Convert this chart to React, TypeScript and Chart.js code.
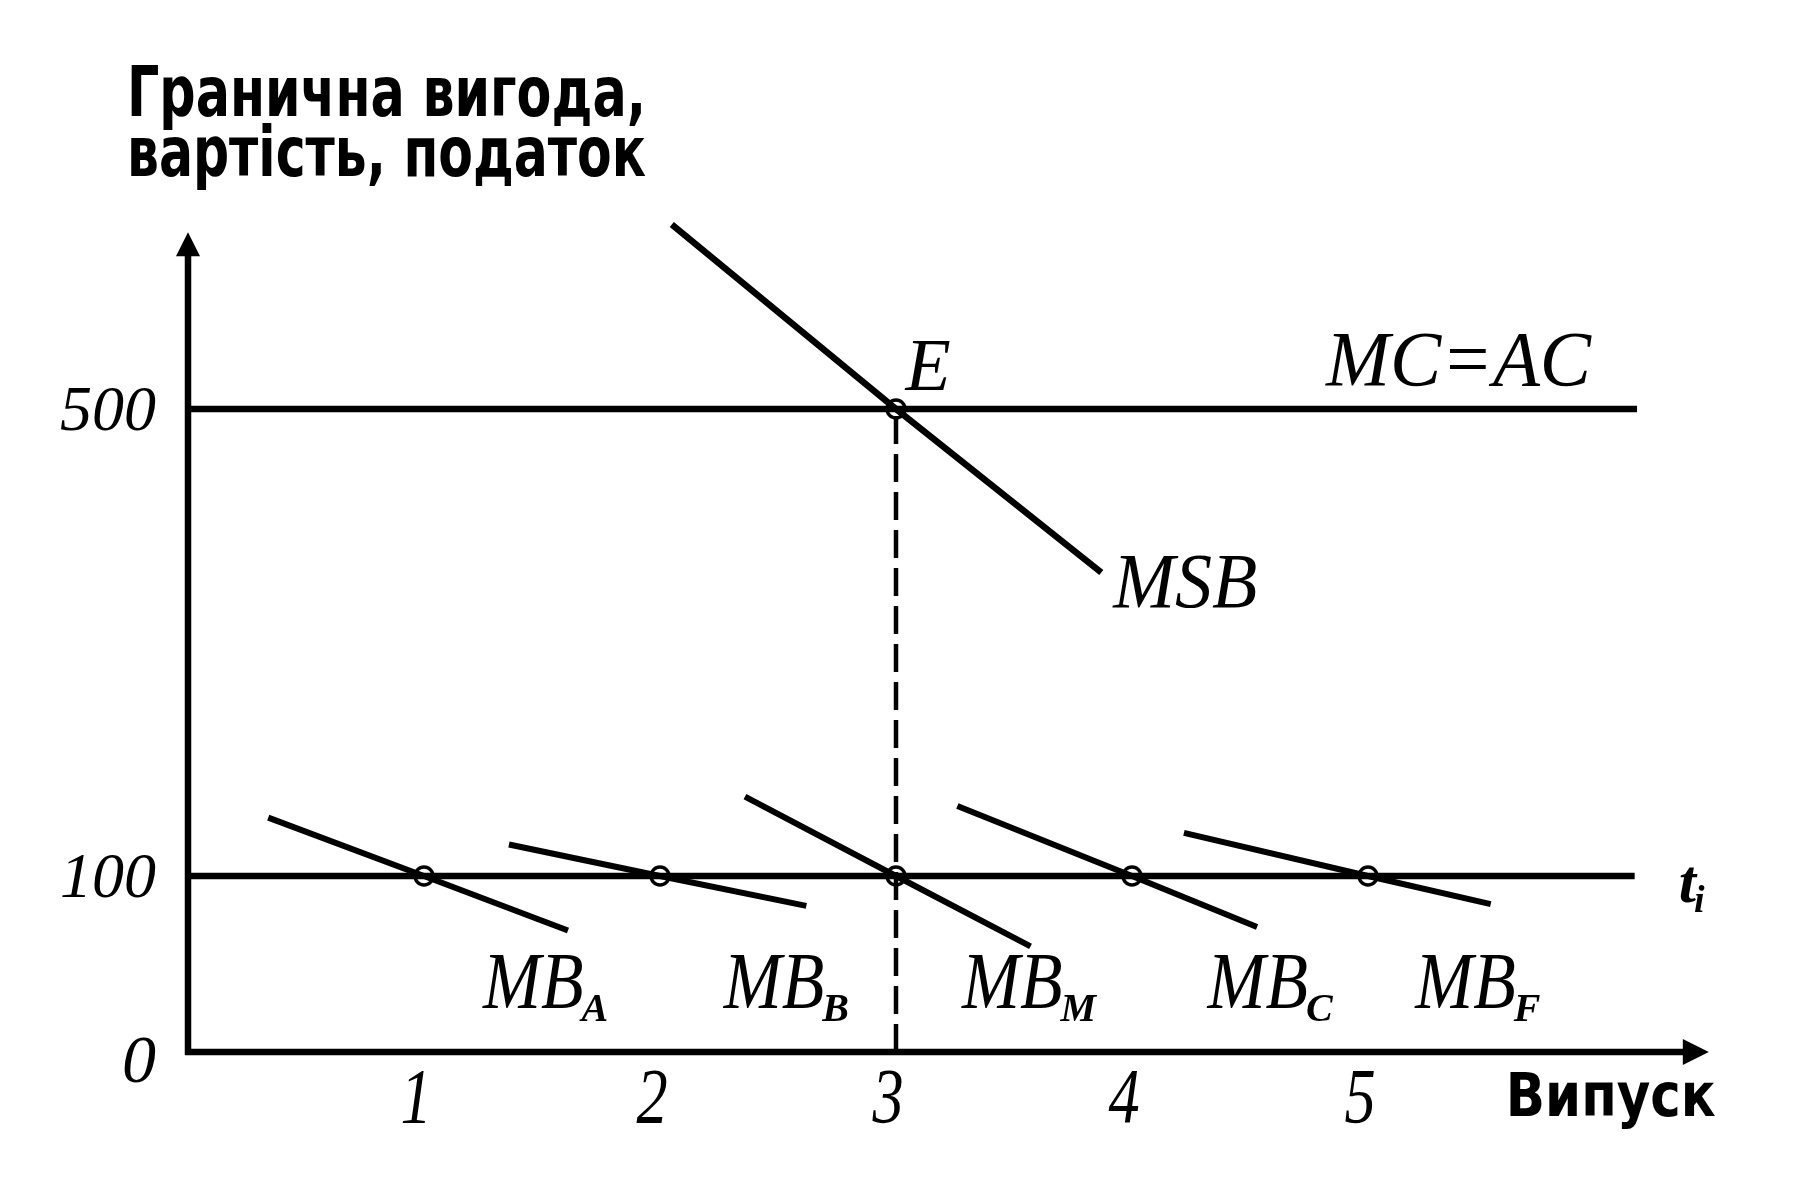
import React, { useEffect, useRef } from 'react';
import { Chart, registerables, LinearScale } from 'chart.js';

Chart.register(...registerables);

// ---------- data ----------
const X_TICKS = [1, 2, 3, 4, 5];
const Y_TICKS = [0, 100, 500];
const X_MAX = 6.5;
const Y_MAX = 700;
const X_AXIS_END = 6.44;
const Y_AXIS_END = 648;

const MC_AC_X = [0, 6.14];
const MC_AC_Y = [500, 500];
const TAX_X = [0, 6.13];
const TAX_Y = [100, 100];
const MSB_X = [2.05, 3, 3.87];
const MSB_Y = [658, 500, 360];

const MB_NAMES = ['A', 'B', 'M', 'C', 'F'];
const MB_X = [
  [0.34, 1, 1.61],
  [1.36, 2, 2.62],
  [2.36, 3, 3.57],
  [3.26, 4, 4.53],
  [4.22, 5, 5.52],
];
const MB_Y = [
  [150, 100, 69],
  [127, 100, 83],
  [168, 100, 60],
  [160, 100, 71],
  [137, 100, 84],
];

const EQ_X = 3;
const EQ_Y = 500;
const TAX_POINTS_X = [1, 2, 3, 4, 5];
const TAX_POINTS_Y = [100, 100, 100, 100, 100];

// broken (piecewise) value axis: value stops and their relative drawn lengths
const Y_STOPS = [0, 100, 700];
const Y_SPANS = [176, 700.5];

const INK = '#000000';
const SERIF = '"Liberation Serif", "DejaVu Serif", serif';
const SANS = '"DejaVu Sans Condensed", "DejaVu Sans", sans-serif';

class PiecewiseScale extends LinearScale {
  static id = 'piecewise';
  static defaults = {};
  frac(v: number): number {
    const total = Y_SPANS.reduce((a, b) => a + b, 0);
    let acc = 0;
    for (let i = 0; i < Y_SPANS.length; i++) {
      const a = Y_STOPS[i];
      const b = Y_STOPS[i + 1];
      if (v <= b || i === Y_SPANS.length - 1) {
        return (acc + ((v - a) / (b - a)) * Y_SPANS[i]) / total;
      }
      acc += Y_SPANS[i];
    }
    return 0;
  }
  getPixelForValue(v: number) {
    return this.bottom - this.frac(v) * (this.bottom - this.top);
  }
  getValueForPixel(p: number) {
    const total = Y_SPANS.reduce((a, b) => a + b, 0);
    let f = ((this.bottom - p) / (this.bottom - this.top)) * total;
    for (let i = 0; i < Y_SPANS.length; i++) {
      if (f <= Y_SPANS[i] || i === Y_SPANS.length - 1) {
        return Y_STOPS[i] + (f / Y_SPANS[i]) * (Y_STOPS[i + 1] - Y_STOPS[i]);
      }
      f -= Y_SPANS[i];
    }
    return 0;
  }
}
Chart.register(PiecewiseScale as any);

function zip(xs: number[], ys: number[]) {
  return xs.map((x, i) => ({ x, y: ys[i] }));
}

function drawText(
  ctx: CanvasRenderingContext2D,
  s: string,
  x: number,
  y: number,
  font: string,
  align: CanvasTextAlign = 'left',
  width?: number,
  sx0 = 1
) {
  ctx.save();
  ctx.font = font;
  const w = ctx.measureText(s).width;
  const sx = width ? width / w : sx0;
  ctx.translate(x, y);
  ctx.scale(sx, 1);
  ctx.textAlign = align;
  ctx.textBaseline = 'alphabetic';
  ctx.fillStyle = INK;
  ctx.fillText(s, 0, 0);
  ctx.restore();
  return w * sx;
}

const decor = {
  id: 'decor',
  beforeDatasetsDraw(chart: any) {
    const ctx: CanvasRenderingContext2D = chart.ctx;
    const X = (v: number) => chart.scales.x.getPixelForValue(v);
    const Y = (v: number) => chart.scales.y.getPixelForValue(v);
    ctx.save();
    ctx.strokeStyle = INK;
    ctx.fillStyle = INK;
    ctx.lineWidth = 6.5;
    // y axis
    const x0 = X(0);
    const y0 = Y(0);
    const yTop = Y(Y_AXIS_END);
    ctx.beginPath();
    ctx.moveTo(x0, y0 + 3);
    ctx.lineTo(x0, yTop + 16);
    ctx.stroke();
    ctx.beginPath();
    ctx.moveTo(x0, yTop - 4);
    ctx.lineTo(x0 - 12, yTop + 20);
    ctx.lineTo(x0 + 12, yTop + 20);
    ctx.closePath();
    ctx.fill();
    // x axis
    const xEnd = X(X_AXIS_END);
    ctx.beginPath();
    ctx.moveTo(x0 - 3, y0);
    ctx.lineTo(xEnd - 16, y0);
    ctx.stroke();
    ctx.beginPath();
    ctx.moveTo(xEnd + 1, y0);
    ctx.lineTo(xEnd - 25, y0 - 13);
    ctx.lineTo(xEnd - 25, y0 + 13);
    ctx.closePath();
    ctx.fill();
    ctx.restore();
  },
  afterDatasetsDraw(chart: any) {
    const ctx: CanvasRenderingContext2D = chart.ctx;
    const X = (v: number) => chart.scales.x.getPixelForValue(v);
    const Y = (v: number) => chart.scales.y.getPixelForValue(v);
    const x0 = X(0);
    const y0 = Y(0);

    // axis titles
    drawText(ctx, 'Гранична вигода,', x0 - 61, 116, `bold 70px ${SANS}`, 'left', 519);
    drawText(ctx, 'вартість, податок', x0 - 61, 176, `bold 70px ${SANS}`, 'left', 519);
    drawText(ctx, 'Випуск', X(X_AXIS_END) + 8, y0 + 64, `bold 60px ${SANS}`, 'right', 210);

    // y ticks
    Y_TICKS.forEach((v) => {
      if (v === 0) {
        drawText(ctx, '0', x0 - 32, y0 + 30, `italic 68px ${SERIF}`, 'right');
      } else {
        drawText(ctx, String(v), x0 - 32, Y(v) + 21, `italic 64px ${SERIF}`, 'right');
      }
    });
    // x ticks
    X_TICKS.forEach((v) => {
      drawText(ctx, String(v), X(v) - 8, y0 + 70, `italic 78px ${SERIF}`, 'center', undefined, 0.8);
    });

    // curve labels
    drawText(ctx, 'E', X(EQ_X) + 32, Y(EQ_Y) - 19, `italic 74px ${SERIF}`, 'center');
    drawText(ctx, 'MC=AC', X(MC_AC_X[1]) - 46, Y(500) - 24, `italic 78px ${SERIF}`, 'right', 265);
    drawText(ctx, 'MSB', X(MSB_X[2]) + 12, Y(MSB_Y[2]) + 35, `italic 78px ${SERIF}`, 'left', 144);

    // MB labels
    const mbLeft = [1.25, 2.27, 3.28, 4.32, 5.2];
    MB_NAMES.forEach((n, i) => {
      const lx = X(mbLeft[i]);
      const by = Y(25);
      const w = drawText(ctx, 'MB', lx, by, `italic 80px ${SERIF}`, 'left', undefined, 0.87);
      drawText(ctx, n, lx + w - 2, by + 13, `bold italic 40px ${SERIF}`, 'left');
    });

    // t_i
    const tx = X(TAX_X[1]) + 44;
    const ty = Y(100) + 26;
    const tw = drawText(ctx, 't', tx, ty, `bold italic 62px ${SERIF}`, 'left');
    drawText(ctx, 'i', tx + tw - 2, ty + 10, `bold italic 38px ${SERIF}`, 'left');
  },
};

export default function App() {
  const ref = useRef<HTMLCanvasElement | null>(null);
  useEffect(() => {
    if (!ref.current) return;
    const lineDs = (label: string, xs: number[], ys: number[], extra: any = {}) => ({
      label,
      data: zip(xs, ys),
      borderColor: INK,
      borderWidth: 6.5,
      pointRadius: 0,
      fill: false,
      tension: 0,
      clip: false as any,
      ...extra,
    });
    const datasets: any[] = [
      lineDs('MC=AC', MC_AC_X, MC_AC_Y),
      lineDs('t_i', TAX_X, TAX_Y),
      lineDs('MSB', MSB_X, MSB_Y),
      ...MB_NAMES.map((n, i) => lineDs('MB_' + n, MB_X[i], MB_Y[i], { borderWidth: 6 })),
      lineDs('dashed', [EQ_X, EQ_X], [0, EQ_Y], { borderWidth: 4.5, borderDash: [28, 10] }),
      {
        type: 'scatter',
        label: 'points',
        data: zip([...TAX_POINTS_X, EQ_X], [...TAX_POINTS_Y, EQ_Y]),
        pointRadius: 9,
        pointBorderWidth: 3.5,
        pointBorderColor: INK,
        pointBackgroundColor: '#ffffff',
        showLine: false,
        clip: false,
      },
    ];
    const chart = new Chart(ref.current, {
      type: 'line',
      data: { datasets },
      options: {
        animation: false,
        responsive: false,
        devicePixelRatio: 1,
        layout: { padding: { left: 188, right: 86, top: 175.5, bottom: 132 } },
        plugins: { legend: { display: false }, title: { display: false }, tooltip: { enabled: false } },
        scales: {
          x: { type: 'linear', min: 0, max: X_MAX, display: false },
          y: { type: 'piecewise' as any, min: 0, max: Y_MAX, display: false },
        },
      },
      plugins: [decor],
    });
    return () => chart.destroy();
  }, []);
  return (
    <div style={{ position: 'fixed', left: 0, top: 0, width: 1808, height: 1184, background: '#fff' }}>
      <canvas ref={ref} width={1808} height={1184} style={{ display: 'block' }} />
    </div>
  );
}
